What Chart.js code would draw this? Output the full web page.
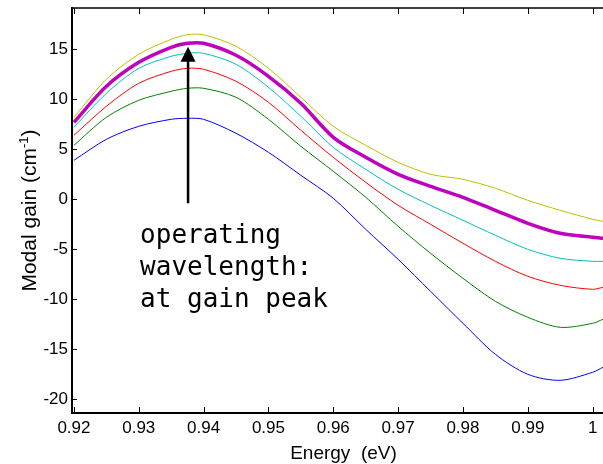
<!DOCTYPE html>
<html>
<head>
<meta charset="utf-8">
<script src="https://cdn.jsdelivr.net/npm/chart.js@4.4.0/dist/chart.umd.min.js"></script>
<style>
  html, body { margin: 0; padding: 0; background: #fff; }
  #wrap { width: 603px; height: 464px; position: relative; }
</style>
</head>
<body>
<div id="wrap"><canvas id="c" width="603" height="464"></canvas></div>
<script>
// ---- data ----
const energies = [0.92, 0.925, 0.93, 0.935, 0.9375, 0.94, 0.945, 0.95, 0.955, 0.96, 0.965, 0.97, 0.975, 0.98, 0.985, 0.99, 0.995, 1.0, 1.0016];
const gainYellow  = [8.2, 12.0, 14.5, 16.0, 16.45, 16.45, 15.3, 13.1, 10.2, 7.3, 5.4, 3.7, 2.5, 2.0, 1.1, -0.1, -1.1, -2.0, -2.2];
const gainMagenta = [7.7, 11.3, 13.7, 15.2, 15.6, 15.6, 14.4, 12.3, 9.6, 6.2, 4.2, 2.5, 1.3, 0.2, -1.1, -2.4, -3.4, -3.8, -3.9];
const gainCyan    = [7.2, 10.6, 13.1, 14.3, 14.6, 14.6, 13.5, 11.2, 8.3, 5.2, 3.0, 1.0, -0.6, -2.1, -3.6, -5.0, -5.9, -6.2, -6.2];
const gainRed     = [6.4, 9.3, 11.6, 12.8, 13.1, 13.0, 11.8, 9.7, 6.9, 4.2, 1.7, -0.6, -2.5, -4.4, -6.2, -7.7, -8.6, -9.0, -8.8];
const gainGreen   = [5.4, 8.2, 9.9, 10.8, 11.1, 11.1, 10.2, 8.0, 5.3, 2.8, 0.2, -2.7, -5.4, -7.9, -10.2, -11.8, -12.8, -12.4, -12.0];
const gainBlue    = [3.9, 6.0, 7.3, 8.0, 8.1, 8.0, 6.6, 4.7, 2.4, 0.1, -3.0, -6.0, -9.2, -12.4, -15.5, -17.5, -18.1, -17.3, -16.8];

const xTicks = [0.92, 0.93, 0.94, 0.95, 0.96, 0.97, 0.98, 0.99, 1.0];
const xTickLabels = ['0.92', '0.93', '0.94', '0.95', '0.96', '0.97', '0.98', '0.99', '1'];
const yTicks = [-20, -15, -10, -5, 0, 5, 10, 15];
const yTickLabels = ['-20', '-15', '-10', '-5', '0', '5', '10', '15'];

const xTitle = 'Energy  (eV)';
const yTitleMain = 'Modal gain (cm';
const yTitleSup = '-1';
const yTitleEnd = ')';
const noteLines = ['operating', 'wavelength:', 'at gain peak'];
const arrowEnergy = 0.9376;
const arrowFrom = -0.4;
const arrowTo = 15.25;
const noteEnergy = 0.9302;
const noteBaselines = [-4.4, -7.6, -10.75];

function pts(arr) { return energies.map((e, i) => ({ x: e, y: arr[i] })); }
function ds(arr, color, w) {
  return { data: pts(arr), borderColor: color, borderWidth: w, pointRadius: 0, fill: false,
           tension: 0.3 };
}

const frame = {
  id: 'frame',
  afterDraw(chart) {
    const ctx = chart.ctx, a = chart.chartArea;
    const xs = chart.scales.x, ys = chart.scales.y;
    ctx.save();
    // top border
    ctx.strokeStyle = '#000';
    ctx.lineWidth = 1.5;
    ctx.beginPath(); ctx.moveTo(a.left, a.top); ctx.lineTo(a.right + 2, a.top); ctx.stroke();
    // inward ticks
    ctx.lineWidth = 1;
    ctx.beginPath();
    xTicks.forEach(v => {
      const px = Math.round(xs.getPixelForValue(v)) + 0.5;
      ctx.moveTo(px, a.bottom); ctx.lineTo(px, a.bottom - 6);
      ctx.moveTo(px, a.top); ctx.lineTo(px, a.top + 6);
    });
    yTicks.forEach(v => {
      const py = Math.round(ys.getPixelForValue(v)) + 0.5;
      ctx.moveTo(a.left, py); ctx.lineTo(a.left + 5, py);
    });
    ctx.stroke();

    // arrow
    const ax = xs.getPixelForValue(arrowEnergy);
    const y0 = ys.getPixelForValue(arrowFrom);
    const y1 = ys.getPixelForValue(arrowTo);
    ctx.lineWidth = 2.5;
    ctx.beginPath(); ctx.moveTo(ax, y0); ctx.lineTo(ax, y1 + 12); ctx.stroke();
    ctx.fillStyle = '#000';
    ctx.beginPath();
    ctx.moveTo(ax, y1); ctx.lineTo(ax - 7.5, y1 + 15); ctx.lineTo(ax + 7.5, y1 + 15); ctx.closePath(); ctx.fill();

    // annotation text
    ctx.font = '26px "DejaVu Sans Mono"';
    ctx.textAlign = 'left'; ctx.textBaseline = 'alphabetic';
    const nx = xs.getPixelForValue(noteEnergy);
    noteLines.forEach((t, i) => ctx.fillText(t, nx, ys.getPixelForValue(noteBaselines[i])));

    // x title
    ctx.font = '19px "Liberation Sans"';
    ctx.textAlign = 'center';
    ctx.fillText(xTitle, (a.left + a.right) / 2 + 6, 459);

    // y title with superscript
    const big = '21px "Liberation Sans"', small = '13px "Liberation Sans"';
    ctx.font = big; const w1 = ctx.measureText(yTitleMain).width; const w3 = ctx.measureText(yTitleEnd).width;
    ctx.font = small; const w2 = ctx.measureText(yTitleSup).width;
    const total = w1 + w2 + w3;
    ctx.translate(36, (a.top + a.bottom) / 2);
    ctx.rotate(-Math.PI / 2);
    ctx.textAlign = 'left';
    let x = -total / 2;
    ctx.font = big; ctx.fillText(yTitleMain, x, 0); x += w1;
    ctx.font = small; ctx.fillText(yTitleSup, x, -8); x += w2;
    ctx.font = big; ctx.fillText(yTitleEnd, x, 0);
    ctx.restore();
  }
};

new Chart(document.getElementById('c'), {
  type: 'line',
  data: {
    datasets: [
      ds(gainBlue, '#0000FF', 1),
      ds(gainGreen, '#008000', 1),
      ds(gainRed, '#FF0000', 1),
      ds(gainCyan, '#00BFBF', 1),
      ds(gainYellow, '#BFBF00', 1),
      ds(gainMagenta, '#BF00BF', 3.5)
    ]
  },
  options: {
    responsive: false,
    devicePixelRatio: 1,
    animation: false,
    layout: { padding: { top: 8, right: 0, left: 0, bottom: 0 } },
    plugins: { legend: { display: false }, tooltip: { enabled: false } },
    scales: {
      x: {
        type: 'linear', position: 'bottom', min: 0.9197, max: 1.0016,
        afterBuildTicks: s => { s.ticks = xTicks.map(v => ({ value: v })); },
        afterFit: s => { s.height = 51; s.paddingLeft = 0; s.paddingRight = 0; },
        grid: { display: false, drawTicks: false },
        border: { display: true, color: '#000', width: 2 },
        ticks: { color: '#000', font: { family: 'Liberation Sans', size: 17 }, padding: 5,
                 maxRotation: 0, autoSkip: false,
                 callback: (v, i) => xTickLabels[i] }
      },
      y: {
        type: 'linear', position: 'left', min: -21.37, max: 19.13,
        afterBuildTicks: s => { s.ticks = yTicks.map(v => ({ value: v })); },
        afterFit: s => { s.width = 72; s.paddingTop = 0; s.paddingBottom = 0; },
        grid: { display: false, drawTicks: false },
        border: { display: true, color: '#000', width: 2 },
        ticks: { color: '#000', font: { family: 'Liberation Sans', size: 17 }, padding: 4,
                 autoSkip: false,
                 callback: (v, i) => yTickLabels[i] }
      }
    }
  },
  plugins: [frame]
});
</script>
</body>
</html>
